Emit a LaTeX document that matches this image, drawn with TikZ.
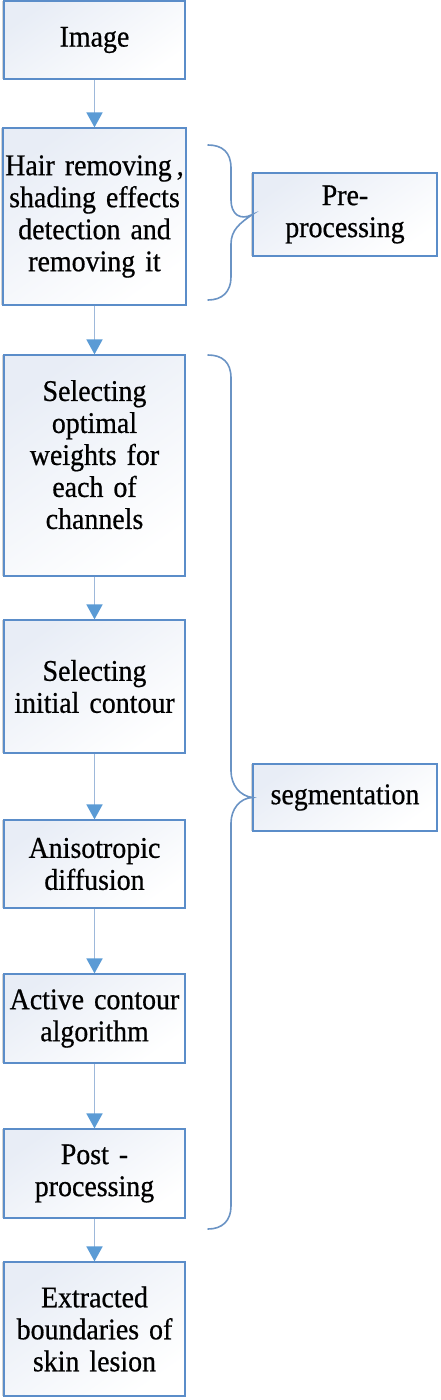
\documentclass[tikz,border=0pt]{standalone}
\usepackage{fontspec}
\setmainfont{Liberation Serif}[FakeStretch=0.93,FakeBold=0.6]
\usetikzlibrary{arrows.meta,shadows}
\definecolor{boxline}{HTML}{5B8DC9}
\definecolor{boxtop}{HTML}{E8EDF6}
\definecolor{arrline}{HTML}{9DB8DA}
\definecolor{arrhead}{HTML}{5B9BD5}
\definecolor{bracecol}{HTML}{6A93C4}
\tikzset{
  stepbox/.style={draw=boxline, line width=1.2pt, top color=boxtop, bottom color=white, shading angle=35,
    minimum width=181pt, text width=178pt, align=center, inner sep=1pt,
    font=\fontsize{30}{32}\selectfont,
    drop shadow={shadow xshift=-2pt, shadow yshift=0pt, opacity=0.35, fill=gray}},
  sidebox/.style={stepbox, minimum width=184pt, text width=178pt},
  flow/.style={draw=arrline, line width=1.8pt, -{Triangle[width=16pt,length=15pt,color=arrhead]}},
  bracestyle/.style={draw=bracecol, line width=1.6pt, line cap=round}
}
\begin{document}
\hyphenpenalty=10000\relax
\exhyphenpenalty=10000\relax
\begin{tikzpicture}[x=1pt,y=-1pt]
\useasboundingbox (0,0) rectangle (441,1400);
\node[stepbox, minimum height=78pt] (img) at (94.5,40) {Image};
\node[stepbox, minimum height=177pt, text width=181pt] (hair) at (94.5,216.5) {\mbox{Hair removing\,,}\\shading effects\\detection and\\removing it};
\node[stepbox, minimum height=221pt] (wts) at (94.5,465.5) {Selecting\\optimal\\weights for\\each of\\channels\rule[-22pt]{0pt}{0pt}};
\node[stepbox, minimum height=133pt] (init) at (94.5,686.5) {Selecting\\initial contour};
\node[stepbox, minimum height=88pt] (aniso) at (94.5,864) {Anisotropic\\diffusion};
\node[stepbox, minimum height=89pt] (active) at (94.5,1018.5) {Active contour\\algorithm};
\node[stepbox, minimum height=89pt] (post) at (94.5,1173.5) {Post -\\processing};
\node[stepbox, minimum height=134pt] (extr) at (94.5,1329) {Extracted\\boundaries of\\skin lesion};
\node[sidebox, minimum height=83pt] (pre) at (345,214.5) {Pre-\\processing};
\node[sidebox, minimum height=67pt] (seg) at (345,797.5) {segmentation};

\draw[flow] (img) -- (hair);
\draw[flow] (hair) -- (wts);
\draw[flow] (wts) -- (init);
\draw[flow] (init) -- (aniso);
\draw[flow] (aniso) -- (active);
\draw[flow] (active) -- (post);
\draw[flow] (post) -- (extr);

% brace for pre-processing
\coordinate (b1top) at (208,145);
\coordinate (b1bot) at (208,300);
\draw[bracestyle] (b1top) .. controls (222,145) and (231,152) .. (231,168)
  -- (231,200) .. controls (231,214) and (240,221) .. (pre.west)
  .. controls (240,223) and (231,230) .. (231,244)
  -- (231,277) .. controls (231,292) and (222,300) .. (b1bot);
% brace for segmentation
\coordinate (b2top) at (208,355);
\coordinate (b2bot) at (208,1229);
\draw[bracestyle] (b2top) .. controls (222,355) and (231,362) .. (231,378)
  -- (231,771) .. controls (231,785) and (240,796) .. (seg.west)
  .. controls (240,798) and (231,809) .. (231,823)
  -- (231,1206) .. controls (231,1221) and (222,1229) .. (b2bot);
\end{tikzpicture}
\end{document}
